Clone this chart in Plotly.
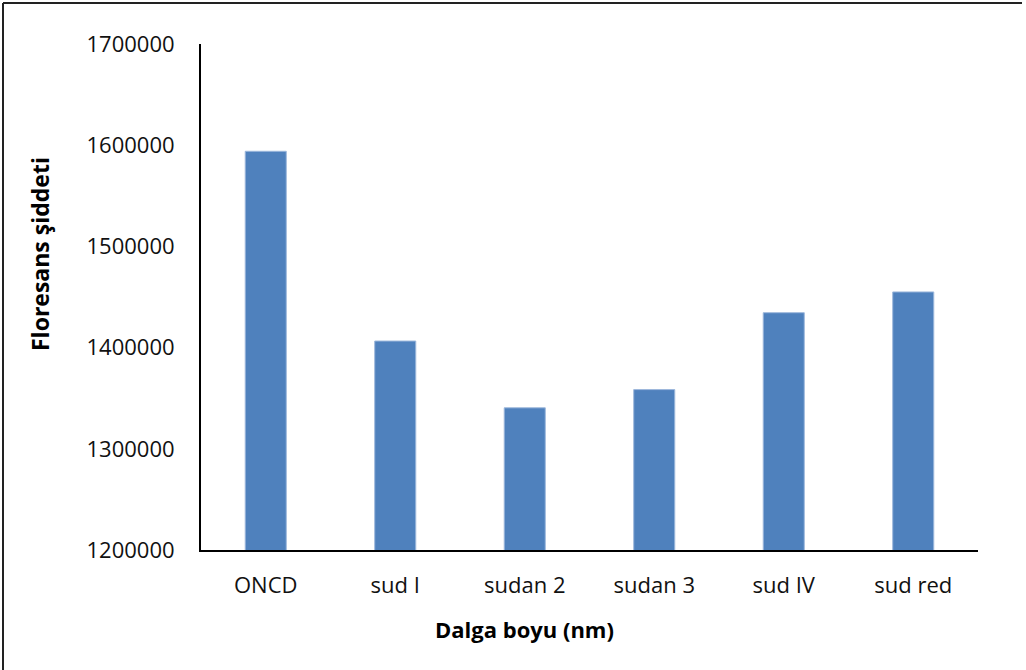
import plotly.graph_objects as go

categories = ["ONCD", "sud I", "sudan 2", "sudan 3", "sud IV", "sud red"]
intensity = [1594000, 1406500, 1340500, 1358500, 1434500, 1455000]
y_ticks = [1200000, 1300000, 1400000, 1500000, 1600000, 1700000]

W, H = 1026, 670
L, R, T, B = 201, 48, 44, 120
pw, ph = W - L - R, H - T - B


def px_x(p):
    return (p - L) / pw


def px_y(p):
    return (H - B - p) / ph


fig = go.Figure(
    go.Bar(
        x=categories,
        y=intensity,
        marker=dict(color="#4F81BD", line=dict(color="#9DB8DC", width=1)),
    )
)

fig.update_layout(
    width=W,
    height=H,
    margin=dict(l=L, r=R, t=T, b=B),
    paper_bgcolor="white",
    plot_bgcolor="white",
    bargap=0.683,
    showlegend=False,
    font=dict(family="Open Sans", color="black"),
    xaxis=dict(
        showline=True,
        linecolor="black",
        linewidth=2,
        ticks="",
        tickfont=dict(size=22, family="Open Sans", color="#111"),
        ticklabelstandoff=15,
        showgrid=False,
    ),
    yaxis=dict(
        range=[1200000, 1700000],
        tickvals=y_ticks,
        ticktext=[str(v) for v in y_ticks],
        showline=True,
        linecolor="black",
        linewidth=2,
        ticks="",
        tickfont=dict(size=22, family="Open Sans", color="#111"),
        ticklabelstandoff=20,
        showgrid=False,
        zeroline=False,
    ),
    annotations=[
        dict(text="<b>Floresans şiddeti</b>", xref="paper", yref="paper",
             x=px_x(40), y=px_y(254), textangle=-90, showarrow=False,
             xanchor="center", yanchor="middle",
             font=dict(size=23, family="Open Sans", color="black")),
        dict(text="<b>Dalga boyu (nm)</b>", xref="paper", yref="paper",
             x=px_x(524), y=px_y(629), showarrow=False,
             xanchor="center", yanchor="middle",
             font=dict(size=22, family="Open Sans", color="black")),
    ],
    shapes=[
        dict(type="line", xref="paper", yref="paper", x0=px_x(3), x1=px_x(3),
             y0=px_y(3), y1=px_y(672), line=dict(color="#222", width=2)),
        dict(type="line", xref="paper", yref="paper", x0=px_x(3), x1=px_x(1022),
             y0=px_y(3), y1=px_y(3), line=dict(color="#222", width=2)),
    ],
)

fig.write_html("out.html")
